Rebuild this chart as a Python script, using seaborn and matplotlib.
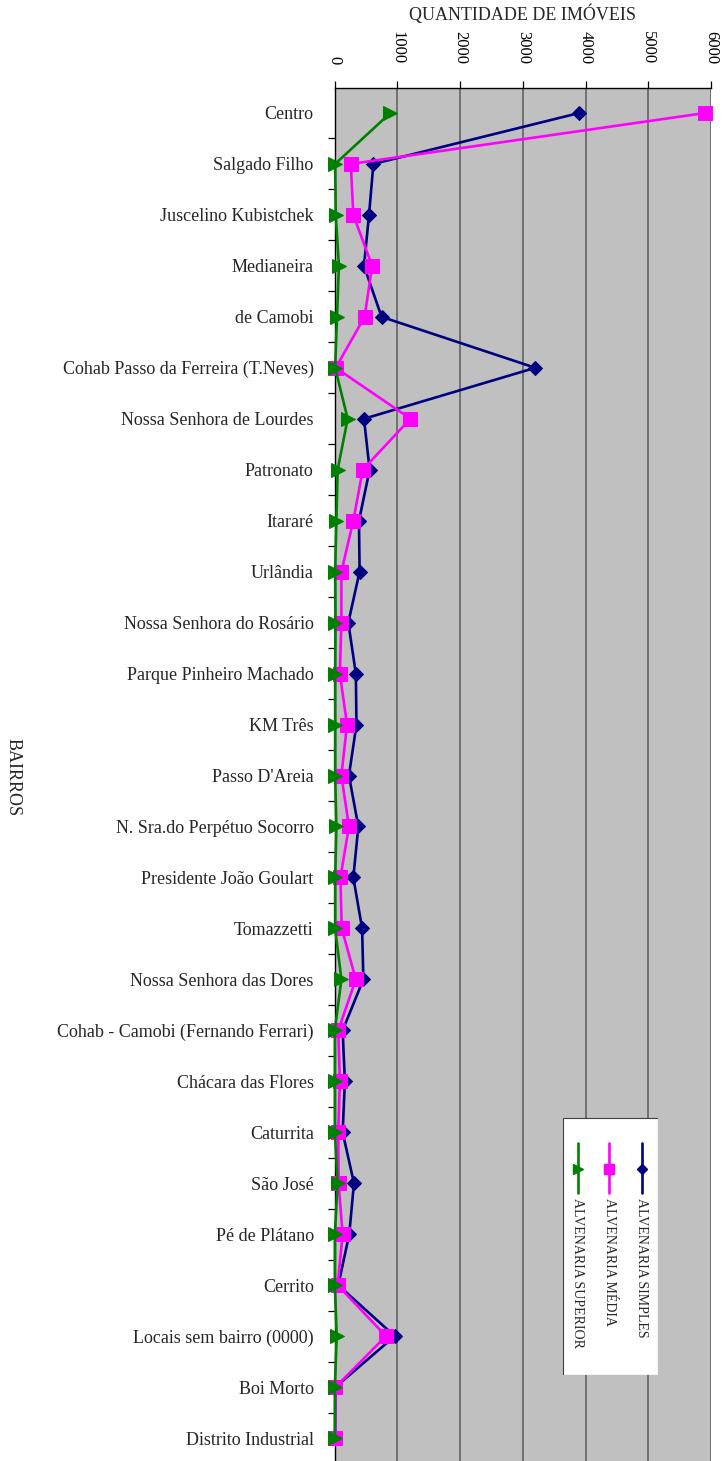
import numpy as np
import pandas as pd
import matplotlib
matplotlib.use("Agg")
import matplotlib.pyplot as plt
from matplotlib.patches import Rectangle
from matplotlib.ticker import FixedLocator
import seaborn as sns

# Bairros, in the order they are listed
bairros = [
    "Centro", "Salgado Filho", "Juscelino Kubistchek", "Medianeira", "de Camobi",
    "Cohab Passo da Ferreira (T.Neves)", "Nossa Senhora de Lourdes", "Patronato",
    "Itararé", "Urlândia", "Nossa Senhora do Rosário", "Parque Pinheiro Machado",
    "KM Três", "Passo D'Areia", "N. Sra.do Perpétuo Socorro",
    "Presidente João Goulart", "Tomazzetti", "Nossa Senhora das Dores",
    "Cohab - Camobi (Fernando Ferrari)", "Chácara das Flores", "Caturrita",
    "São José", "Pé de Plátano", "Cerrito", "Locais sem bairro (0000)",
    "Boi Morto", "Distrito Industrial",
]

# Number of buildings per bairro and construction standard
alvenaria_simples = [3900, 620, 550, 470, 750, 3200, 470, 560, 390, 400, 220, 340,
                     350, 230, 380, 300, 440, 460, 130, 165, 130, 310, 235, 60,
                     960, 15, 10]
alvenaria_media = [5910, 260, 300, 600, 480, 20, 1210, 450, 300, 110, 110, 85,
                   200, 110, 230, 95, 115, 340, 60, 85, 60, 65, 130, 50,
                   820, 15, 15]
alvenaria_superior = [890, 10, 20, 70, 40, 10, 210, 50, 30, 10, 15, 10,
                      10, 10, 30, 10, 10, 110, 5, 5, 5, 50, 5, 5,
                      35, 5, 5]

x_ticks = [0, 1000, 2000, 3000, 4000, 5000, 6000]

series = [
    ("ALVENARIA SIMPLES", alvenaria_simples, "#000080", "D", 6.7),
    ("ALVENARIA MÉDIA", alvenaria_media, "#FF00FF", "s", 10),
    ("ALVENARIA SUPERIOR", alvenaria_superior, "#008000", ">", 10),
]

sns.set_style("white")
plt.rcParams["font.family"] = ["Liberation Serif", "DejaVu Serif"]

W, H = 723, 1461
fig = plt.figure(figsize=(W / 100, H / 100), dpi=100)

left_px, right_px, top_px = 334.5, 711.0, 87.5
ax = fig.add_axes([left_px / W, 0.0, (right_px - left_px) / W, 1 - top_px / H])
ax.set_facecolor("#C0C0C0")

pos = np.arange(len(bairros))
for k, (name, vals, color, marker, ms) in enumerate(series):
    df = pd.DataFrame({"valor": vals, "pos": pos})
    sns.lineplot(data=df, x="valor", y="pos", sort=False, estimator=None,
                 color=color, marker=marker, markersize=ms, linewidth=1.9,
                 markeredgecolor=color, ax=ax, zorder=3 + k, legend=False,
                 clip_on=False)

ax.set_xlim(0, 6000)
ax.set_ylim(26.45, -0.5)

# value axis on top
ax.xaxis.tick_top()
ax.xaxis.set_label_position("top")
ax.set_xticks(x_ticks)
ax.set_xticklabels([str(v) for v in x_ticks], rotation=-90, fontsize=12)
ax.tick_params(axis="x", top=True, bottom=False, length=5, width=0.9,
               direction="out", pad=12, colors="black")
ax.set_xlabel("QUANTIDADE DE IMÓVEIS", fontsize=13, labelpad=8)
for v in x_ticks[1:]:
    ax.axvline(v, color="#6a6a6a", linewidth=1.3, zorder=1)

# category axis on the left
ax.set_yticks(pos)
ax.set_yticklabels(bairros, fontsize=13)
ax.yaxis.set_minor_locator(FixedLocator(pos[:-1] + 0.5))
ax.tick_params(axis="y", which="major", length=0, pad=15)
ax.tick_params(axis="y", which="minor", left=True, length=5, width=0.9,
               direction="out", color="black")
ax.set_ylabel("")
ax.grid(False)

for side in ("bottom", "right"):
    ax.spines[side].set_visible(False)
for side in ("top", "left"):
    ax.spines[side].set_color("black")
    ax.spines[side].set_linewidth(1.0)
    ax.spines[side].set_zorder(2)

fig.text(13 / W, 1 - 777 / H, "BAIRROS", rotation=-90, fontsize=13,
         ha="center", va="center")

# legend box, drawn rotated like the rest of the chart
lx0, ly0, lw_, lh_ = 562, 1117, 96, 258
lax = fig.add_axes([lx0 / W, 1 - (ly0 + lh_) / H, lw_ / W, lh_ / H])
lax.set_xlim(0, lw_)
lax.set_ylim(lh_, 0)
lax.axis("off")
lax.add_patch(Rectangle((0.5, 0.5), lw_ - 1, lh_ - 1, facecolor="white",
                        edgecolor="#404040", linewidth=0.8))
legend_x = {"ALVENARIA SIMPLES": 80, "ALVENARIA MÉDIA": 47, "ALVENARIA SUPERIOR": 16}
legend_ms = {"D": 5, "s": 7, ">": 7}
for name, vals, color, marker, ms in series:
    x = legend_x[name]
    lax.plot([x, x], [26, 76], color=color, linewidth=1.9)
    lax.plot([x], [52], marker=marker, color=color, markersize=legend_ms[marker],
             markeredgecolor=color)
    lax.text(x, 81, name, rotation=-90, fontsize=10, ha="center", va="top")

fig.savefig("out.png", dpi=100, facecolor="white")
